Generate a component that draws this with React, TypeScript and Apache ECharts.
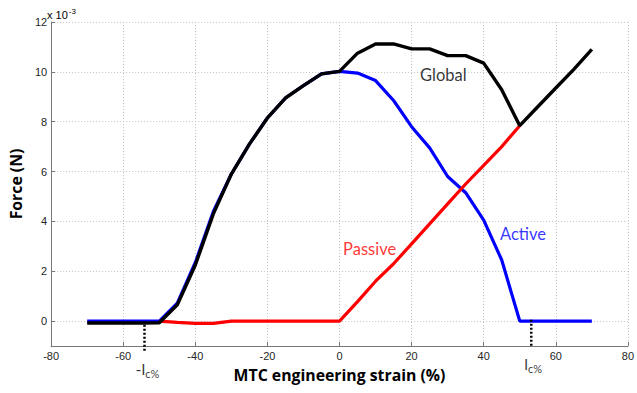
import React, { useEffect, useRef } from "react";
import * as echarts from "echarts";

const strain = [-70, -65, -60, -55, -50, -45, -40, -35, -30, -25, -20, -15, -10, -5, 0, 5, 10, 15, 20, 25, 30, 35, 40, 45, 50, 55, 60, 65, 70];
const globalForce = [-0.08, -0.08, -0.08, -0.08, -0.07, 0.65, 2.25, 4.3, 5.9, 7.1, 8.15, 8.95, 9.45, 9.92, 10.02, 10.75, 11.12, 11.12, 10.92, 10.92, 10.65, 10.65, 10.35, 9.28, 7.84, 8.6, 9.35, 10.1, 10.9];
const activeForce = [0, 0, 0, 0, 0, 0.72, 2.35, 4.4, 5.9, 7.1, 8.15, 8.95, 9.45, 9.92, 10.02, 9.95, 9.65, 8.85, 7.8, 6.95, 5.8, 5.15, 4.05, 2.45, 0, 0, 0, 0, 0];
const passiveForce = [null, null, null, null, 0, -0.05, -0.09, -0.09, 0, 0, 0, 0, 0, 0, 0, 0.78, 1.6, 2.3, 3.1, 3.9, 4.7, 5.5, 6.25, 7.0, 7.84, null, null, null, null];

const xTicks = [-80, -60, -40, -20, 0, 20, 40, 60, 80];
const yTicks = [0, 2, 4, 6, 8, 10, 12];

const lcLeft = { x: -54.1, yTop: -0.15, yBottom: -1.25, labelX: -53.3, labelY: -1.9 };
const lcRight = { x: 53.2, yTop: 0.05, yBottom: -1.05, labelX: 53.7, labelY: -1.72 };

const curveLabels = [
  { name: "Global", x: 28.8, y: 9.89, color: "#000000" },
  { name: "Passive", x: 8.35, y: 2.89, color: "#ff0000" },
  { name: "Active", x: 50.9, y: 3.48, color: "#0000ff" },
];

const pair = (ys: (number | null)[]) => strain.map((x, i) => [x, ys[i]]);

export default function App() {
  const ref = useRef<HTMLDivElement>(null);
  useEffect(() => {
    if (!ref.current) return;
    const chart = echarts.init(ref.current, null, { renderer: "svg" });
    const tickFont = { fontFamily: "Liberation Sans", fontSize: 11, color: "#262626" };
    const titleFont = { fontFamily: "Open Sans", fontWeight: "bold", fontSize: 15.8, color: "#000" };
    const lcRich = {
      l: { fontFamily: "Lato", fontSize: 16, color: "#000" },
      s: { fontFamily: "Lato", fontSize: 11, color: "#000", padding: [10, 0, 0, 0] },
    };
    chart.setOption({
      animation: false,
      backgroundColor: "#ffffff",
      grid: { left: 47, right: 6, top: 22, bottom: 47, containLabel: false },
      xAxis: {
        type: "value",
        min: -80,
        max: 80,
        interval: 20,
        name: "MTC engineering strain (%)",
        nameLocation: "middle",
        nameGap: 21,
        nameTextStyle: titleFont,
        axisLine: { show: true, onZero: false, lineStyle: { color: "#777", width: 1 } },
        axisTick: { show: true, inside: true, length: 4, lineStyle: { color: "#777" } },
        axisLabel: { ...tickFont, margin: 4, showMinLabel: true, showMaxLabel: true, formatter: (v: number) => (xTicks.includes(v) ? String(v) : "") },
        splitLine: { show: true, lineStyle: { color: "#c4c4c4", type: [1, 2], width: 1 } },
      },
      yAxis: {
        type: "value",
        min: -1,
        max: 12,
        name: "Force (N)",
        nameLocation: "middle",
        nameGap: 22,
        nameTextStyle: titleFont,
        axisLine: { show: true, onZero: false, lineStyle: { color: "#777", width: 1 } },
        axisTick: { show: true, inside: true, length: 4, lineStyle: { color: "#777" }, customValues: yTicks },
        axisLabel: { ...tickFont, margin: 4, customValues: yTicks },
        splitLine: { show: true, lineStyle: { color: "#c4c4c4", type: [1, 2], width: 1 } },
      },
      graphic: [
        {
          type: "text",
          left: 47,
          top: 7,
          style: {
            text: "{a|x 10}{b|-3}",
            rich: {
              a: { fontFamily: "Liberation Sans", fontSize: 11, color: "#262626" },
              b: { fontFamily: "Liberation Sans", fontSize: 8, color: "#262626", padding: [0, 0, 7, 1] },
            },
          },
        },
      ],
      series: [
        {
          type: "line",
          data: pair(activeForce),
          symbol: "none",
          lineStyle: { color: "#0000ff", width: 3.2 },
          z: 2,
        },
        {
          type: "line",
          data: pair(passiveForce),
          symbol: "none",
          connectNulls: false,
          lineStyle: { color: "#ff0000", width: 3.2 },
          z: 3,
        },
        {
          type: "line",
          data: pair(globalForce),
          symbol: "none",
          lineStyle: { color: "#000000", width: 3.4 },
          z: 4,
        },
        {
          type: "line",
          data: [[lcLeft.x, lcLeft.yTop], [lcLeft.x, lcLeft.yBottom]],
          symbol: "none",
          clip: false,
          lineStyle: { color: "#000", width: 2.5, type: [2, 2] },
          z: 5,
        },
        {
          type: "line",
          data: [[lcRight.x, lcRight.yTop], [lcRight.x, lcRight.yBottom]],
          symbol: "none",
          clip: false,
          lineStyle: { color: "#000", width: 2.5, type: [2, 2] },
          z: 5,
        },
        {
          type: "scatter",
          clip: false,
          symbolSize: 1,
          itemStyle: { color: "rgba(0,0,0,0)" },
          data: [
            { value: [lcLeft.labelX, lcLeft.labelY], label: { formatter: "{l|-l}{s|c%}" } },
            { value: [lcRight.labelX, lcRight.labelY], label: { formatter: "{l|l}{s|c%}" } },
          ],
          label: { show: true, position: "inside", rich: lcRich },
          z: 6,
        },
        {
          type: "scatter",
          clip: false,
          symbolSize: 1,
          itemStyle: { color: "rgba(0,0,0,0)" },
          data: curveLabels.map((c) => ({
            value: [c.x, c.y],
            label: { formatter: c.name, color: c.color },
          })),
          label: { show: true, position: "inside", fontFamily: "Lato", fontSize: 16.5 },
          z: 6,
        },
      ],
    });
    return () => chart.dispose();
  }, []);
  return <div ref={ref} style={{ position: "absolute", left: 0, top: 0, width: 637, height: 393 }} />;
}
